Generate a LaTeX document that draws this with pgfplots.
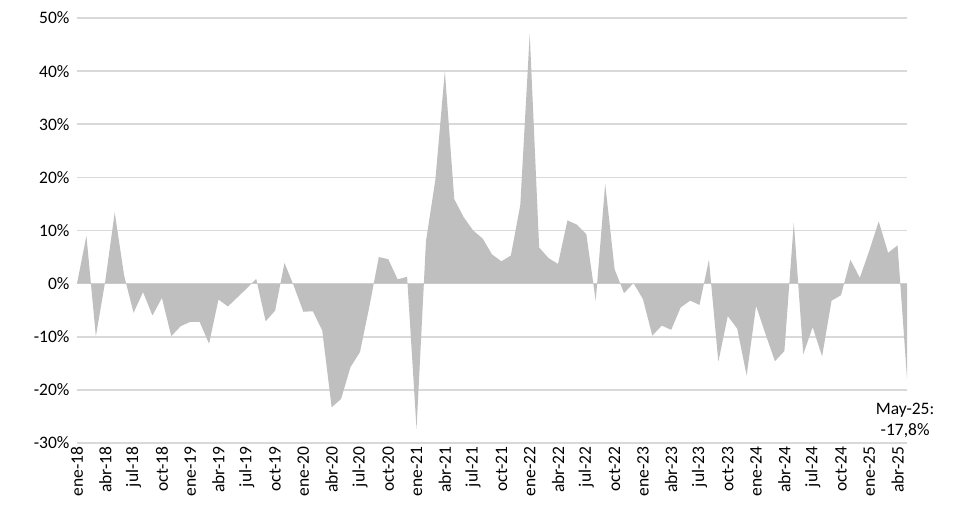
\documentclass[border=0pt]{standalone}
\usepackage{pgfplots}
\pgfplotsset{compat=1.18}
\usepackage{fontspec}
\setmainfont{Carlito}
\definecolor{areagray}{HTML}{BFBFBF}
\definecolor{gridgray}{HTML}{D9D9D9}
\begin{document}
\begin{tikzpicture}
\useasboundingbox (-77pt,-67pt) rectangle (887pt,443pt);
\begin{axis}[
  scale only axis, width=830pt, height=425pt,
  xmin=0, xmax=88, ymin=-30, ymax=50,
  axis line style={draw=none},
  major tick length=0pt,
  ymajorgrids, grid style={gridgray, line width=1.6pt},
  ytick={-30,-20,...,50},
  yticklabel={\pgfmathprintnumber{\tick}\%},
  /pgf/number format/assume math mode=true,
  xtick={0,3,...,87},
  xticklabels={ene-18,abr-18,jul-18,oct-18,ene-19,abr-19,jul-19,oct-19,ene-20,abr-20,jul-20,oct-20,ene-21,abr-21,jul-21,oct-21,ene-22,abr-22,jul-22,oct-22,ene-23,abr-23,jul-23,oct-23,ene-24,abr-24,jul-24,oct-24,ene-25,abr-25},
  xticklabel style={rotate=90, anchor=east, font=\fontsize{17.5}{20}\selectfont},
  yticklabel style={font=\fontsize{17.5}{20}\selectfont, xshift=-4pt},
  clip=false,
]
\addplot[fill=areagray, draw=none] coordinates {
(0,0.0) (1,9.0) (2,-9.9) (3,0.5) (4,13.4) (5,1.5) (6,-5.5) (7,-1.6) (8,-6.0) (9,-2.7)
(10,-9.9) (11,-8.0) (12,-7.2) (13,-7.2) (14,-11.3) (15,-3.0) (16,-4.3) (17,-2.6) (18,-0.9) (19,0.9)
(20,-7.1) (21,-5.1) (22,3.9) (23,-0.5) (24,-5.3) (25,-5.2) (26,-8.8) (27,-23.3) (28,-21.7) (29,-15.7)
(30,-12.9) (31,-4.3) (32,5.0) (33,4.6) (34,0.8) (35,1.3) (36,-27.4) (37,8.0) (38,19.6) (39,40.0)
(40,15.9) (41,12.5) (42,10.0) (43,8.5) (44,5.5) (45,4.2) (46,5.3) (47,14.8) (48,47.0) (49,6.8)
(50,4.8) (51,3.7) (52,11.9) (53,11.1) (54,9.3) (55,-3.2) (56,18.8) (57,2.7) (58,-1.8) (59,0.1)
(60,-2.9) (61,-9.8) (62,-7.9) (63,-8.7) (64,-4.5) (65,-3.2) (66,-4.0) (67,4.5) (68,-14.7) (69,-6.1)
(70,-8.5) (71,-17.3) (72,-4.2) (73,-9.5) (74,-14.6) (75,-12.7) (76,11.5) (77,-13.3) (78,-8.2) (79,-13.7)
(80,-3.2) (81,-2.2) (82,4.5) (83,1.1) (84,6.2) (85,11.7) (86,5.8) (87,7.2) (88,-17.8)
} \closedcycle;
\node[align=center, font=\fontsize{17.5}{21}\selectfont] at (axis cs:87.8,-25.7) {May-25:\\-17,8\%};
\end{axis}
\end{tikzpicture}
\end{document}
